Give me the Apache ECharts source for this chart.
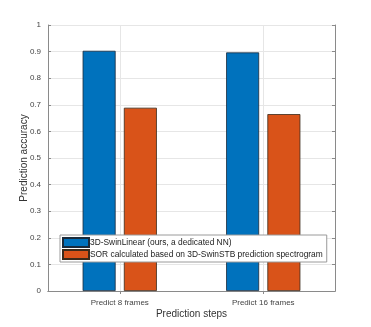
<!DOCTYPE html>
<html>
<head>
<meta charset="utf-8">
<script src="https://cdn.jsdelivr.net/npm/echarts@6/dist/echarts.min.js"></script>
<style>
  html, body { margin: 0; padding: 0; background: #fff; }
  #chart { width: 371px; height: 327px; }
</style>
</head>
<body>
<div id="chart"></div>
<script>
var categories = ['Predict 8 frames', 'Predict 16 frames'];
var seriesNames = ['3D-SwinLinear (ours, a dedicated NN)', 'SOR calculated based on 3D-SwinSTB prediction spectrogram'];
var swinLinear = [0.903, 0.897];
var sorValues = [0.689, 0.665];
var yTicks = [0, 0.1, 0.2, 0.3, 0.4, 0.5, 0.6, 0.7, 0.8, 0.9, 1];

var myChart = echarts.init(document.getElementById('chart'));
var font = 'Liberation Sans, Arial, sans-serif';
var axisColor = '#8a8a8a';
var labelColor = '#444';

var option = {
    backgroundColor: '#fff',
    animation: false,
    grid: { left: 48, right: 36, top: 25, bottom: 36, containLabel: false },
    legend: {
        orient: 'vertical',
        left: 60,
        top: 235,
        z: 20,
        padding: [2, 4, 2, 2],
        itemGap: 1,
        itemWidth: 26,
        itemHeight: 9,
        backgroundColor: '#fff',
        borderColor: '#9a9a9a',
        borderWidth: 1,
        borderRadius: 0,
        icon: 'rect',
        textStyle: { fontFamily: font, fontSize: 8.4, color: '#222', padding: [0, 0, 0, -4] },
        data: seriesNames
    },
    xAxis: [{
        type: 'category',
        data: categories,
        boundaryGap: true,
        axisLine: { lineStyle: { color: axisColor, width: 1 } },
        axisTick: { show: true, inside: true, length: 3, alignWithLabel: true, lineStyle: { color: axisColor } },
        axisLabel: { fontFamily: font, fontSize: 8, color: labelColor, margin: 8 },
        splitLine: { show: false },
        name: 'Prediction steps',
        nameLocation: 'middle',
        nameGap: 18,
        nameMoveOverlap: false,
        nameTextStyle: { fontFamily: font, fontSize: 10, color: '#333', verticalAlign: 'top' }
    }, {
        type: 'category',
        data: categories,
        position: 'top',
        boundaryGap: true,
        axisLine: { show: true, lineStyle: { color: axisColor, width: 1 } },
        axisTick: { show: true, inside: true, length: 3, alignWithLabel: true, lineStyle: { color: axisColor } },
        axisLabel: { show: false },
        splitLine: { show: false }
    }],
    yAxis: [{
        type: 'value',
        min: 0,
        max: 1,
        interval: 0.1,
        axisLine: { show: true, lineStyle: { color: axisColor, width: 1 } },
        axisTick: { show: true, inside: true, length: 3, lineStyle: { color: axisColor } },
        axisLabel: {
            fontFamily: font, fontSize: 8, color: labelColor, margin: 7,
            formatter: function (v) {
                var t = yTicks.filter(function (k) { return Math.abs(k - v) < 1e-6; });
                return t.length ? String(t[0]) : '';
            }
        },
        splitLine: { show: true, lineStyle: { color: '#e6e6e6', width: 1 } },
        name: 'Prediction accuracy',
        nameLocation: 'middle',
        nameGap: 19,
        nameMoveOverlap: false,
        nameTextStyle: { fontFamily: font, fontSize: 10, color: '#333' }
    }, {
        type: 'value',
        min: 0,
        max: 1,
        interval: 0.1,
        position: 'right',
        axisLine: { show: true, lineStyle: { color: axisColor, width: 1 } },
        axisTick: { show: true, inside: true, length: 3, lineStyle: { color: axisColor } },
        axisLabel: { show: false },
        splitLine: { show: false }
    }],
    series: [{
        // vertical grid lines at category centres
        name: 'xgrid',
        type: 'line',
        data: [],
        z: 1,
        zlevel: 0,
        silent: true,
        markLine: {
            silent: true,
            z: 1,
            symbol: 'none',
            label: { show: false },
            lineStyle: { color: '#e6e6e6', width: 1, type: 'solid' },
            data: categories.map(function (c) { return { xAxis: c }; })
        }
    }, {
        name: seriesNames[0],
        type: 'bar',
        xAxisIndex: 0,
        yAxisIndex: 0,
        barWidth: 33,
        barGap: '25%',
        z: 3,
        itemStyle: { color: '#0072BD', borderColor: '#1a2a3a', borderWidth: 0.8 },
        data: swinLinear
    }, {
        name: seriesNames[1],
        type: 'bar',
        xAxisIndex: 0,
        yAxisIndex: 0,
        barWidth: 33,
        barGap: '25%',
        z: 3,
        itemStyle: { color: '#D95319', borderColor: '#3a2a1a', borderWidth: 0.8 },
        data: sorValues
    }]
};

myChart.setOption(option);
window.addEventListener('resize', function () {
    myChart.resize();
});
</script>
</body>
</html>
